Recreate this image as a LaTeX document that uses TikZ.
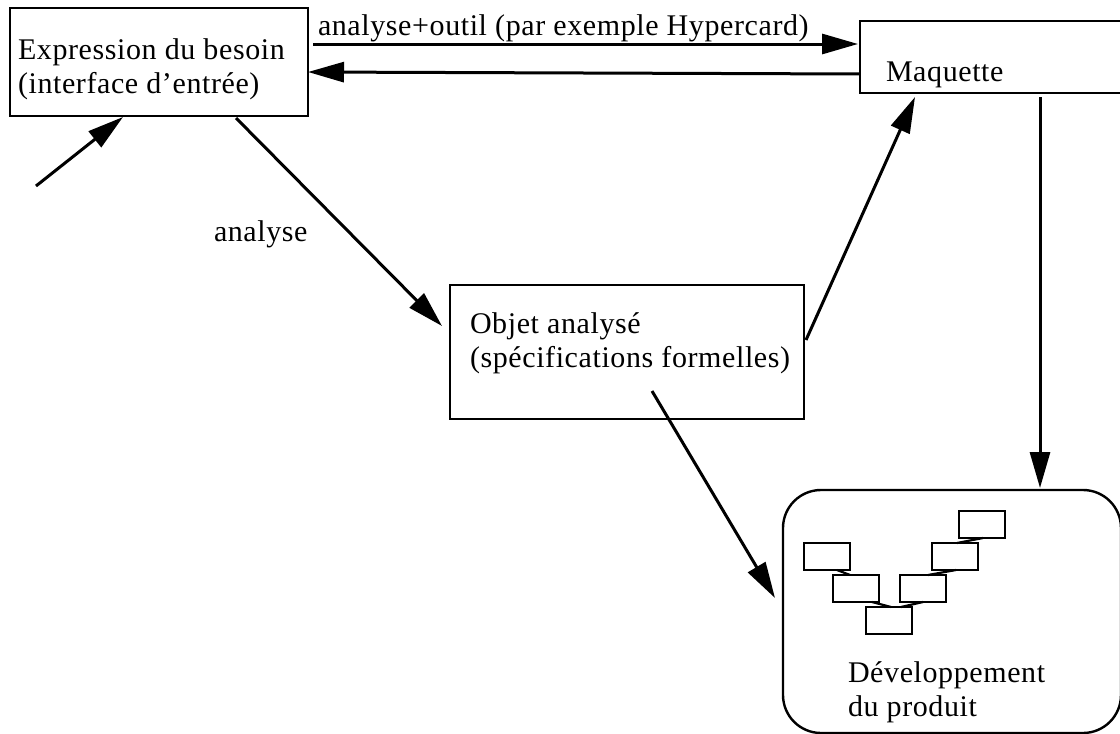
\documentclass[tikz,border=0pt]{standalone}
\usepackage{fontspec}
\setmainfont[LetterSpace=2]{Liberation Serif}
\usetikzlibrary{arrows.meta,positioning}
\tikzset{
  x=1pt,y=-1pt,
  every node/.style={inner sep=0pt,outer sep=0pt},
  bigbox/.style={draw,line width=2.4pt,anchor=north west,sharp corners},
  tinybox/.style={draw,line width=2.2pt,anchor=north west,minimum width=46pt,minimum height=27pt},
  txt/.style={anchor=base west,align=left,font=\fontsize{30}{34}\selectfont},
  conn/.style={line width=3pt,-{Triangle[length=36pt,width=20pt]}},
  tie/.style={line width=2.2pt},
}
\begin{document}
\begin{tikzpicture}
\useasboundingbox (0,0) rectangle (1120,734);
\clip (0,0) rectangle (1120,734);
% boxes
\node[bigbox,minimum width=298pt,minimum height=108pt] (expr) at (10,8) {};
\node[bigbox,minimum width=270pt,minimum height=72pt] (maq) at (860,21) {};
\node[bigbox,minimum width=354pt,minimum height=134pt] (obj) at (450,285) {};
\node[draw,line width=2.4pt,rounded corners=38pt,anchor=north west,minimum width=338pt,minimum height=243pt] (dev) at (783,490) {};
% free end
\coordinate (start) at (36,186);
% tiny V-model boxes
\node[tinybox] (t1) at (804,543) {};
\node[tinybox] (t2) at (833,575) {};
\node[tinybox] (t3) at (866,607) {};
\node[tinybox] (t4) at (900,575) {};
\node[tinybox] (t5) at (932,543) {};
\node[tinybox] (t6) at (959,511) {};
\draw[tie] ([shift={(33,0)}]t1.south west) -- ([shift={(17,0)}]t2.north west);
\draw[tie] ([shift={(39,0)}]t2.south west) -- ([shift={(25,0)}]t3.north west);
\draw[tie] ([shift={(23,0)}]t4.south west) -- ([shift={(35,0)}]t3.north west);
\draw[tie] ([shift={(24,0)}]t5.south west) -- ([shift={(28,0)}]t4.north west);
\draw[tie] ([shift={(24,0)}]t6.south west) -- ([shift={(25,0)}]t5.north west);
% connectors
\draw[conn] ([shift={(303,36)}]expr.north west) -- ([shift={(-2,23)}]maq.north west);
\draw[conn] ([shift={(0,53)}]maq.north west) -- ([shift={(0,64)}]expr.north east);
\draw[conn] (start) -- ([shift={(113,1)}]expr.south west);
\draw[conn] ([shift={(226,2)}]expr.south west) -- ([shift={(-8,41)}]obj.north west);
\draw[conn] ([shift={(2,55)}]obj.north east) -- ([shift={(55,4)}]maq.south west);
\draw[conn] ([shift={(180,4)}]maq.south west) -- ([shift={(257,-2)}]dev.north west);
\draw[conn] ([shift={(202,-28)}]obj.south west) -- ([shift={(-8,108)}]dev.north west);
% texts
\node[txt] (l1) at (18,93) {Expression du besoin\\(interface d'entrée)};
\node[txt] (l2) at (886,81) {Maquette};
\node[txt] (l3) at (470,367) {Objet analysé\\(spécifications formelles)};
\node[txt] (l4) at (848,716) {Développement\\du produit};
\node[txt] (l5) at (318,35) {analyse+outil (par exemple Hypercard)};
\node[txt] (l6) at (214,241) {analyse};
\end{tikzpicture}
\end{document}
